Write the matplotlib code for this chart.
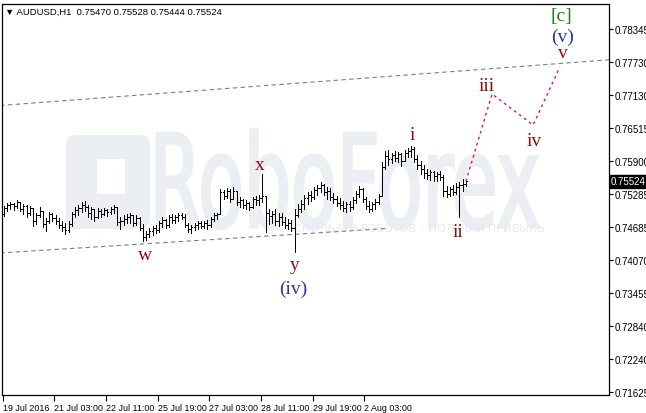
import numpy as np
import matplotlib.pyplot as plt
from matplotlib.textpath import TextPath
from matplotlib.patches import PathPatch, FancyBboxPatch, Rectangle
from matplotlib.font_manager import FontProperties
from matplotlib.transforms import Affine2D, IdentityTransform, blended_transform_factory

# AUDUSD H1 bars
opens = [0.74921, 0.75032, 0.75087, 0.75106, 0.75069, 0.75143, 0.75013, 0.75069, 0.74939, 0.75032,
         0.74791, 0.74902, 0.74976, 0.74736, 0.74791, 0.74921, 0.74847, 0.74791, 0.74717, 0.74680,
         0.74625, 0.74736, 0.74921, 0.74995, 0.75032, 0.75087, 0.75050, 0.74939, 0.75013, 0.74865,
         0.74976, 0.74921, 0.74995, 0.74958, 0.75013, 0.75050, 0.74773, 0.74791, 0.74828, 0.74865,
         0.74902, 0.74754, 0.74847, 0.74662, 0.74495, 0.74550, 0.74606, 0.74662, 0.74625, 0.74754,
         0.74810, 0.74717, 0.74865, 0.74810, 0.74865, 0.74902, 0.74865, 0.74717, 0.74643, 0.74680,
         0.74717, 0.74754, 0.74699, 0.74754, 0.74717, 0.74828, 0.74902, 0.74921, 0.75328, 0.75254,
         0.75346, 0.75198, 0.75346, 0.75143, 0.75180, 0.75087, 0.75124, 0.75050, 0.75198, 0.75180,
         0.75217, 0.75254, 0.74939, 0.74884, 0.74921, 0.74791, 0.74865, 0.74773, 0.74717, 0.74754,
         0.74662, 0.74902, 0.75013, 0.75106, 0.75217, 0.75272, 0.75235, 0.75365, 0.75402, 0.75457,
         0.75328, 0.75346, 0.75235, 0.75198, 0.75124, 0.75087, 0.75032, 0.75106, 0.75050, 0.75180,
         0.75291, 0.75383, 0.75198, 0.75069, 0.75013, 0.75106, 0.75143, 0.75254, 0.75791, 0.75994,
         0.75939, 0.76013, 0.75957, 0.76031, 0.75902, 0.76050, 0.76087, 0.76124, 0.75939, 0.75828,
         0.75754, 0.75680, 0.75643, 0.75698, 0.75624, 0.75661, 0.75606, 0.75346, 0.75291, 0.75383,
         0.75328, 0.75420, 0.75457, 0.75470]
highs = [0.75069, 0.75124, 0.75143, 0.75124, 0.75180, 0.75143, 0.75106, 0.75087, 0.75069, 0.75013,
         0.74939, 0.75050, 0.74976, 0.74847, 0.74958, 0.74939, 0.74902, 0.74847, 0.74791, 0.74754,
         0.74791, 0.74958, 0.75050, 0.75087, 0.75143, 0.75161, 0.75087, 0.75050, 0.75013, 0.75032,
         0.75013, 0.75032, 0.75013, 0.75050, 0.75087, 0.75050, 0.74865, 0.74902, 0.74921, 0.74939,
         0.74902, 0.74902, 0.74865, 0.74736, 0.74606, 0.74662, 0.74699, 0.74717, 0.74791, 0.74865,
         0.74828, 0.74902, 0.74921, 0.74902, 0.74939, 0.74939, 0.74921, 0.74754, 0.74717, 0.74754,
         0.74791, 0.74791, 0.74791, 0.74810, 0.74865, 0.74939, 0.74939, 0.75383, 0.75365, 0.75402,
         0.75383, 0.75420, 0.75346, 0.75235, 0.75198, 0.75180, 0.75143, 0.75235, 0.75254, 0.75272,
         0.75661, 0.75254, 0.75013, 0.74976, 0.75013, 0.74939, 0.74939, 0.74865, 0.74828, 0.74810,
         0.75013, 0.75106, 0.75180, 0.75272, 0.75328, 0.75346, 0.75420, 0.75457, 0.75513, 0.75476,
         0.75420, 0.75402, 0.75309, 0.75254, 0.75217, 0.75161, 0.75143, 0.75161, 0.75235, 0.75346,
         0.75439, 0.75402, 0.75235, 0.75161, 0.75143, 0.75198, 0.75291, 0.75883, 0.76087, 0.76105,
         0.76050, 0.76087, 0.76068, 0.76050, 0.76105, 0.76142, 0.76179, 0.76161, 0.76013, 0.75902,
         0.75828, 0.75754, 0.75735, 0.75717, 0.75698, 0.75717, 0.75643, 0.75439, 0.75420, 0.75457,
         0.75495, 0.75513, 0.75569, 0.75528]
lows = [0.74884, 0.74976, 0.75013, 0.74995, 0.75032, 0.74976, 0.74921, 0.74865, 0.74902, 0.74699,
        0.74736, 0.74865, 0.74680, 0.74606, 0.74754, 0.74791, 0.74736, 0.74662, 0.74606, 0.74550,
        0.74588, 0.74699, 0.74865, 0.74902, 0.74958, 0.74976, 0.74865, 0.74828, 0.74791, 0.74847,
        0.74865, 0.74902, 0.74884, 0.74921, 0.74939, 0.74717, 0.74643, 0.74717, 0.74754, 0.74754,
        0.74699, 0.74717, 0.74625, 0.74421, 0.74439, 0.74495, 0.74532, 0.74569, 0.74588, 0.74680,
        0.74662, 0.74680, 0.74754, 0.74754, 0.74791, 0.74828, 0.74680, 0.74588, 0.74569, 0.74625,
        0.74643, 0.74662, 0.74662, 0.74643, 0.74680, 0.74791, 0.74828, 0.74921, 0.75198, 0.75217,
        0.75143, 0.75198, 0.75087, 0.75050, 0.75032, 0.75013, 0.74995, 0.75032, 0.75087, 0.75087,
        0.75143, 0.74588, 0.74736, 0.74754, 0.74717, 0.74699, 0.74717, 0.74662, 0.74643, 0.74606,
        0.74217, 0.74865, 0.74958, 0.75013, 0.75106, 0.75161, 0.75198, 0.75272, 0.75328, 0.75272,
        0.75198, 0.75180, 0.75124, 0.75069, 0.75013, 0.74976, 0.74958, 0.74976, 0.75013, 0.75124,
        0.75235, 0.75143, 0.75013, 0.74958, 0.74976, 0.75013, 0.75106, 0.75254, 0.75754, 0.75828,
        0.75865, 0.75902, 0.75883, 0.75809, 0.75902, 0.75976, 0.75976, 0.75883, 0.75754, 0.75661,
        0.75587, 0.75569, 0.75550, 0.75532, 0.75532, 0.75550, 0.75254, 0.75235, 0.75254, 0.75272,
        0.75291, 0.74865, 0.75346, 0.75444]
closes = [0.75032, 0.75087, 0.75106, 0.75069, 0.75143, 0.75013, 0.75069, 0.74939, 0.75032, 0.74791,
          0.74902, 0.74976, 0.74736, 0.74791, 0.74921, 0.74847, 0.74791, 0.74717, 0.74680, 0.74625,
          0.74736, 0.74921, 0.74995, 0.75032, 0.75087, 0.75050, 0.74939, 0.75013, 0.74865, 0.74976,
          0.74921, 0.74995, 0.74958, 0.75013, 0.75050, 0.74773, 0.74791, 0.74828, 0.74865, 0.74902,
          0.74754, 0.74847, 0.74662, 0.74495, 0.74550, 0.74606, 0.74662, 0.74625, 0.74754, 0.74810,
          0.74717, 0.74865, 0.74810, 0.74865, 0.74902, 0.74865, 0.74717, 0.74643, 0.74680, 0.74717,
          0.74754, 0.74699, 0.74754, 0.74717, 0.74828, 0.74902, 0.74921, 0.75328, 0.75254, 0.75346,
          0.75198, 0.75346, 0.75143, 0.75180, 0.75087, 0.75124, 0.75050, 0.75198, 0.75180, 0.75217,
          0.75254, 0.74939, 0.74884, 0.74921, 0.74791, 0.74865, 0.74773, 0.74717, 0.74754, 0.74662,
          0.74902, 0.75013, 0.75106, 0.75217, 0.75272, 0.75235, 0.75365, 0.75402, 0.75457, 0.75328,
          0.75346, 0.75235, 0.75198, 0.75124, 0.75087, 0.75032, 0.75106, 0.75050, 0.75180, 0.75291,
          0.75383, 0.75198, 0.75069, 0.75013, 0.75106, 0.75143, 0.75254, 0.75791, 0.75994, 0.75939,
          0.76013, 0.75957, 0.76031, 0.75902, 0.76050, 0.76087, 0.76124, 0.75939, 0.75828, 0.75754,
          0.75680, 0.75643, 0.75698, 0.75624, 0.75661, 0.75606, 0.75346, 0.75291, 0.75383, 0.75328,
          0.75420, 0.75457, 0.75476, 0.75524]

time_labels = ["19 Jul 2016", "21 Jul 03:00", "22 Jul 11:00", "25 Jul 19:00",
               "27 Jul 03:00", "28 Jul 11:00", "29 Jul 19:00", "2 Aug 03:00"]
price_ticks = [0.78345, 0.77730, 0.77130, 0.76515, 0.75900, 0.75285,
               0.74685, 0.74070, 0.73455, 0.72840, 0.72240, 0.71625]

# channel lines (bar index, price)
upper_x, upper_y = [-1.2, 187.3], [0.76929, 0.77775]
lower_x, lower_y = [-1.2, 118.9], [0.74199, 0.74654]

# forecast path ii -> iii -> iv -> v
fc_x = [143, 151.1, 163.8, 172.1]
fc_y = [0.75524, 0.77142, 0.76568, 0.77642]

# wave labels: text, bar index, price, colour
waves = [("w", 43.6, 0.74162, "#8b1010"),
         ("x", 79.3, 0.75846, "#8b1010"),
         ("y", 90.1, 0.73977, "#8b1010"),
         ("(iv)", 89.5, 0.73551, "#2b3a8f"),
         ("i", 126.3, 0.76401, "#8b1010"),
         ("ii", 140.6, 0.74588, "#8b1010"),
         ("iii", 149.5, 0.77308, "#8b1010"),
         ("iv", 164.1, 0.76272, "#8b1010"),
         ("v", 173.1, 0.77901, "#8b1010"),
         ("(v)", 172.8, 0.78215, "#2b3a8f"),
         ("[c]", 172.5, 0.78604, "#1e7b1e")]

W, H = 646, 414
fig = plt.figure(figsize=(W / 100, H / 100), dpi=100)
ax = fig.add_axes([2 / W, (H - 396) / H, 607 / W, 391 / H])
ax.set_zorder(2)
ax.set_facecolor("none")

# watermark behind the chart
wm = "#ebeff4"
tp = TextPath((0, 0), "RoboForex", size=100, prop=FontProperties(family="DejaVu Sans"))
ext = tp.get_extents()
sx = (538 - 157) / ext.width
sy = (230 - 130) / ext.height
tr = Affine2D().translate(-ext.x0, -ext.y0).scale(sx, sy).translate(157, H - 230)
fig.patches.append(PathPatch(tp, transform=tr + IdentityTransform(), fc=wm, ec=wm, lw=2.0, zorder=0))
fig.patches.append(FancyBboxPatch((66, H - 230), 84, 94, boxstyle="round,pad=0,rounding_size=10",
                                  transform=IdentityTransform(), fc=wm, ec="none", zorder=0))
fig.patches.append(Rectangle((97, H - 195), 28, 35, transform=IdentityTransform(),
                             fc="white", ec="none", zorder=0.5))
fig.text(415 / W, 1 - 229 / H, "ИСПОЛЬЗУЙ РОБОТОВ – ПОЛУЧАЙ ПРИБЫЛЬ", fontsize=8,
         color="#e6eaf0", ha="center", va="center", zorder=1)

x = np.arange(len(closes))
ax.vlines(x, lows, highs, color="black", lw=0.72, antialiased=False, zorder=3)
ax.hlines(opens, x - 0.33, x, color="black", lw=0.72, antialiased=False, zorder=3)
ax.hlines(closes, x, x + 0.33, color="black", lw=0.72, antialiased=False, zorder=3)

ax.plot(upper_x, upper_y, color="#808080", lw=0.8, ls=(0, (4, 3)), zorder=2)
ax.plot(lower_x, lower_y, color="#808080", lw=0.8, ls=(0, (4, 3)), zorder=2)
ax.plot(fc_x, fc_y, color="#e0194f", lw=1.0, ls=(0, (2, 2.5)), zorder=4)

for s, bx, py, c in waves:
    ax.text(bx, py, s, color=c, fontsize=14, family="Liberation Serif",
            ha="center", va="center", zorder=5)

ax.set_xlim(-0.62, 187.3)
ax.set_ylim(0.71570, 0.78808)

ax.set_xticks([16 * k - 0.4 for k in range(len(time_labels))])
ax.set_xticklabels(time_labels, fontsize=6.4, family="Liberation Sans")
for lbl in ax.get_xticklabels():
    lbl.set_ha("left")
ax.tick_params(axis="x", direction="out", length=4, width=0.8, pad=2)

ax.yaxis.tick_right()
ax.set_yticks(price_ticks)
ax.set_yticklabels([f"{p:.5f}" for p in price_ticks], fontsize=7, family="Liberation Sans")
ax.tick_params(axis="y", direction="out", length=3, width=0.8, pad=1)

for sp in ax.spines.values():
    sp.set_color("black")
    sp.set_linewidth(0.9)

# current price marker
ax.text(1.0 + 2 / 607, closes[-1], f"{closes[-1]:.5f}",
        transform=blended_transform_factory(ax.transAxes, ax.transData),
        fontsize=7, family="Liberation Sans", color="white", ha="left", va="center", zorder=6,
        bbox=dict(boxstyle="square,pad=0.15", fc="black", ec="black"))

fig.text(5 / W, 1 - 12 / H, "▼ AUDUSD,H1  " + " ".join(f"{v:.5f}" for v in
         (opens[-1], highs[-1], lows[-1], closes[-1])),
         fontsize=6.8, family=["Liberation Sans", "DejaVu Sans"], va="center", ha="left")

fig.savefig("out.png", dpi=100, facecolor="white")
